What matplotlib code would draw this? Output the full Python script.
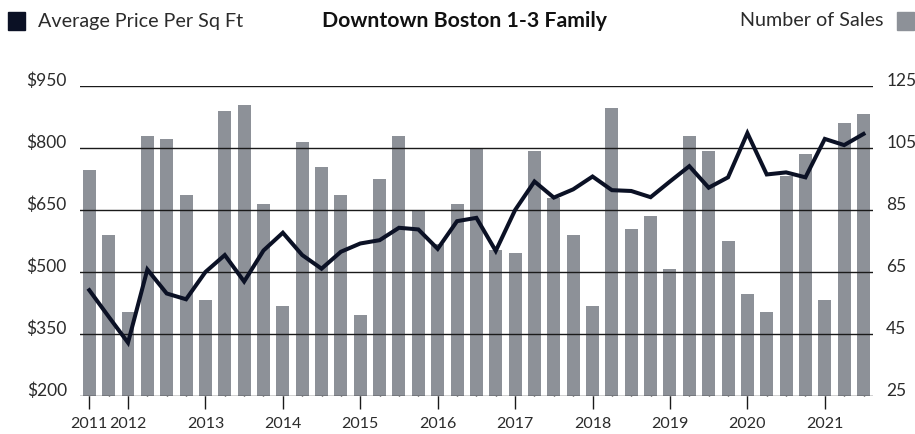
import matplotlib
matplotlib.use("Agg")
import matplotlib.pyplot as plt
from matplotlib.patches import Rectangle
from matplotlib.ticker import FixedLocator, NullFormatter

plt.rcParams['font.family'] = ['Lato', 'DejaVu Sans']

# Quarterly data, 2011 Q3 .. 2021 Q3
quarters = [f"{y} Q{q}" for y in range(2011, 2022) for q in range(1, 5)][2:-1]
sales = [98, 77, 52, 109, 108, 90, 56, 117, 119, 87,
         54, 107, 99, 90, 51, 95, 109, 85, 74, 87,
         105, 72, 71, 104, 89, 77, 54, 118, 79, 83,
         66, 109, 104, 75, 58, 52, 96, 103, 56, 113, 116]
price = [456, 392, 329, 506, 448, 434, 500, 541, 477, 552,
         595, 541, 508, 549, 569, 577, 607, 603, 556, 623,
         631, 551, 650, 719, 680, 700, 731, 698, 696, 681,
         719, 756, 704, 729, 836, 736, 741, 729, 822, 807, 834]

price_ticks = [200, 350, 500, 650, 800, 950]
price_labels = ["$200", "$350", "$500", "$650", "$800", "$950"]
sales_ticks = [25, 45, 65, 85, 105, 125]
sales_labels = ["25", "45", "65", "85", "105", "125"]

title = "Downtown Boston 1-3 Family"
legend_price = "Average Price Per Sq Ft"
legend_sales = "Number of Sales"

bar_color = "#8d9198"
line_color = "#0b1125"
text_color = "#2b2b2b"

W, H = 915, 434
fig = plt.figure(figsize=(W / 100, H / 100), dpi=100)
left, right, top, bottom = 80, 873, 86, 396
ax = fig.add_axes([left / W, 1 - bottom / H, (right - left) / W, (bottom - top) / H])
ax2 = ax.twinx()

x = list(range(len(quarters)))

# Bars on primary axis (sales), line on twin (price)
ax.bar(x, sales, width=0.67, color=bar_color, zorder=2)
ax.set_ylim(sales_ticks[0], sales_ticks[-1])
ax2.plot(x, price, color=line_color, lw=2.9, solid_joinstyle='miter', zorder=5)
ax2.set_ylim(price_ticks[0], price_ticks[-1])

ax.set_xlim(-0.48, len(quarters) - 0.51)

# gridlines on top of bars
for t in price_ticks:
    ax2.axhline(t, color="#1a1a1a", lw=1.0, zorder=3)

# x ticks: first quarter of each year
years = []
year_pos = []
for i, q in enumerate(quarters):
    yr = q.split()[0]
    if yr not in years:
        years.append(yr)
        year_pos.append(i)

ax.xaxis.set_major_locator(FixedLocator(year_pos))
ax.set_xticklabels(years)
ax.xaxis.set_minor_locator(FixedLocator(x))
ax.xaxis.set_minor_formatter(NullFormatter())
ax.xaxis.remove_overlapping_locs = False
ax.tick_params(axis='x', which='major', direction='out', length=9.4, width=1.0,
               color="#1a1a1a", pad=5.5, labelsize=11.5, labelcolor=text_color)
ax.tick_params(axis='x', which='minor', direction='in', length=5.0, width=1.0,
               color="#1a1a1a")

# y axes: sales labels on the right, price labels on left
ax.yaxis.tick_right()
ax.set_yticks(sales_ticks)
ax.set_yticklabels(sales_labels)
ax.tick_params(axis='y', length=0, pad=9.5, labelsize=12.5, labelcolor=text_color)
ax2.yaxis.tick_left()
ax2.set_yticks(price_ticks)
ax2.set_yticklabels(price_labels)
ax2.tick_params(axis='y', length=0, pad=9.5, labelsize=12.5, labelcolor=text_color)
for lbl in ax.get_yticklabels() + ax2.get_yticklabels():
    lbl.set_va('baseline')

for a in (ax, ax2):
    for s in a.spines.values():
        s.set_visible(False)
    a.patch.set_visible(False)
ax2.tick_params(axis='x', which='both', bottom=False, top=False, labelbottom=False)

# header
fig.patches.append(Rectangle((8 / W, 1 - 30 / H), 17 / W, 18 / H, transform=fig.transFigure,
                             color=line_color, figure=fig))
fig.patches.append(Rectangle((897 / W, 1 - 30 / H), 17 / W, 18 / H, transform=fig.transFigure,
                             color=bar_color, figure=fig))
fig.text(38 / W, 1 - 21 / H, legend_price, fontsize=14.2, color=text_color, va='center', ha='left')
fig.text(465 / W, 1 - 21 / H, title, fontsize=15.3, fontweight='bold', color="#111111", va='center', ha='center')
fig.text(884 / W, 1 - 21 / H, legend_sales, fontsize=14.2, color=text_color, va='center', ha='right')

fig.savefig("out.png", dpi=100)
